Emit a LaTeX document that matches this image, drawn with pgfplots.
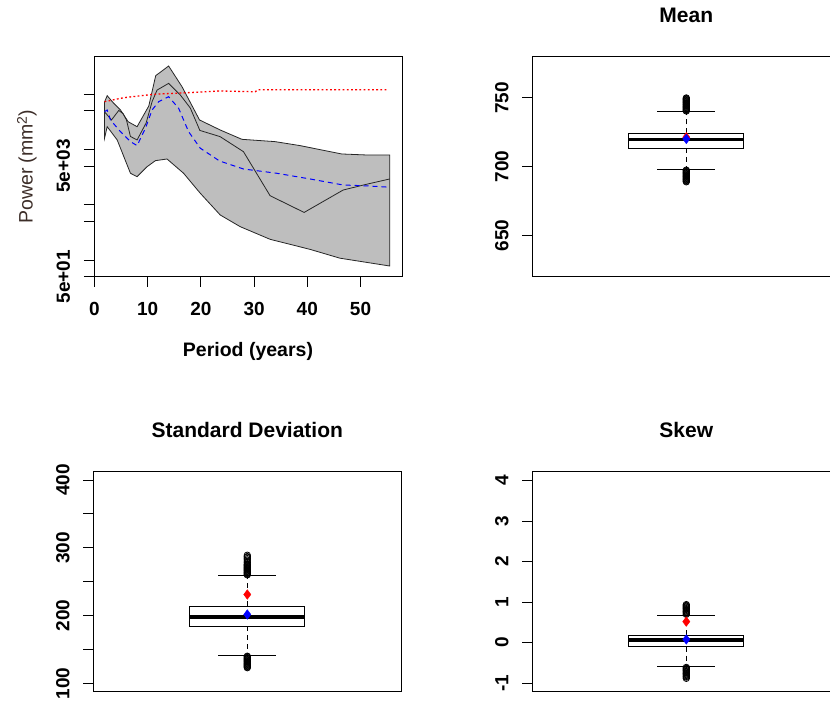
\documentclass[border=0pt]{standalone}
\usepackage{pgfplots}
\pgfplotsset{compat=1.18}
\usepackage{fontspec}
\setmainfont{Liberation Sans}
\definecolor{bandgray}{RGB}{190,190,190}
\definecolor{labcol}{RGB}{60,45,40}
\pgfplotsset{
  rbase/.style={
    scale only axis, width=308pt, height=220pt,
    axis line style={black, line width=0.9pt},
    every tick/.style={black, line width=0.9pt},
    tick align=outside, major tick length=10pt, minor tick num=0,
    ytick pos=left, xtick pos=bottom,
    /pgf/number format/assume math mode=true,
    ticklabel style={font=\fontsize{19}{21}\selectfont\bfseries, inner sep=0pt},
    yticklabel style={rotate=90, anchor=base},
    yticklabel shift=14pt,
    title style={font=\fontsize{21}{24}\selectfont\bfseries, at={(axis description cs:0.5,1)}, anchor=base, yshift=28pt},
  },
  rbox/.style={rbase, xmin=0.5, xmax=1.5, xtick=\empty},
  boxline/.style={black, line width=0.9pt},
  wh/.style={black, line width=0.9pt, dash pattern=on 5pt off 4pt},
  med/.style={black, line width=3.5pt},
  outl/.style={only marks, mark=o, mark size=3.2pt, black, mark options={line width=0.8pt}},
  rpt/.style={only marks, mark=diamond*, mark size=4.8pt, red, mark options={fill=red, draw=red}},
  bpt/.style={only marks, mark=diamond*, mark size=4.8pt, blue, mark options={fill=blue, draw=blue}},
}
\begin{document}
\begin{tikzpicture}
% ---------------- top-left: power spectrum ----------------
\begin{axis}[rbase, at={(94pt,425.3pt)}, anchor=south west,
  xmin=-0.1, xmax=57.8, ymode=log, ymin=50, ymax=473000,
  xtick={0,10,20,30,40,50},
  xticklabel style={anchor=north}, xticklabel shift=15pt,
  ytick={50,100,500,1000,5000,10000,50000,100000},
  yticklabels={5e+01,,,,5e+03,,,},
  xlabel={Period (years)},
  xlabel style={font=\fontsize{19.5}{22}\selectfont\bfseries, at={(axis description cs:0.5,-0.341)}, anchor=center},
  ylabel={Power (mm\raisebox{0.55ex}{\fontsize{14}{16}\selectfont 2})},
  ylabel style={font=\fontsize{19.5}{22}\selectfont, color=labcol, at={(axis description cs:-0.218,0.5)}, rotate=0, anchor=center},
]
\addplot[draw=black!85, line width=0.8pt, fill=bandgray] coordinates {
(1.88,71800) (2.38,93400) (3.56,68900) (4.88,51500) (6.32,31600) (8.0,25700)
(10.2,60800) (11.5,215000) (13.93,321000) (16.44,136000) (19.74,34000)
(23.63,22400) (27.7,15200) (33.94,13800) (38.63,11700) (46.45,8260)
(51.13,7920) (55.5,7920)
(55.5,78) (46.13,108) (40.5,156) (33.0,237) (27.38,401) (23.63,652)
(19.88,1610) (16.74,3700) (13.63,6700) (11.44,6250) (9.88,4860) (8.0,3210)
(6.75,3700) (4.26,14800) (2.38,25700) (1.88,15900)
} -- cycle;
\addplot[black!85, line width=0.8pt] coordinates {
(1.94,47000) (3.19,34000) (4.56,50600) (5.4,44000) (6.0,34000) (6.75,17100)
(8.0,14800) (9.7,30000) (10.82,72800) (11.76,118000) (13.93,156000)
(16.13,96000) (18.0,56000) (19.8,22000) (23.6,17000) (28.0,9080)
(33.0,1455) (39.4,725) (46.75,1845) (51.13,2340) (55.5,2920)
};
\addplot[blue, line width=1pt, dash pattern=on 5pt off 4pt] coordinates {
(1.88,48000) (2.38,51500) (3.0,34000) (4.88,20900) (6.75,13800) (8.0,11700)
(9.56,24000) (10.82,51500) (12.06,72800) (13.93,89600) (15.81,55300)
(17.68,20900) (19.88,10500) (23.5,6170) (28.0,4420) (34.26,3700)
(40.5,2920) (46.75,2270) (51.13,2190) (55.5,2070)
};
\addplot[red, line width=1.3pt, dash pattern=on 1.8pt off 2.4pt] coordinates {
(1.88,72800) (5.49,85900) (11.12,99000) (17.68,106000) (23.63,113500)
(30.19,110000) (30.81,120000) (55.18,120000)
};
\end{axis}
% ---------------- top-right: Mean ----------------
\begin{axis}[rbox, at={(532.3pt,425.3pt)}, anchor=south west,
  ymin=620, ymax=780, ytick={650,700,750}, title={Mean}]
\addplot[boxline] coordinates {(0.813,713.6) (1.187,713.6) (1.187,724.3) (0.813,724.3)} -- cycle;
\addplot[wh] coordinates {(1,724.3) (1,740)};
\addplot[wh] coordinates {(1,713.6) (1,698.3)};
\addplot[boxline] coordinates {(0.906,740) (1.094,740)};
\addplot[boxline] coordinates {(0.906,698.3) (1.094,698.3)};
\addplot[med] coordinates {(0.813,719.7) (1.187,719.7)};
\addplot[outl] coordinates {
(1,740.5) (1,741) (1,741.5) (1,742) (1,742.5) (1,743) (1,743.5) (1,744) (1,744.5) (1,745)
(1,745.5) (1,746) (1,746.5) (1,747) (1,747.5) (1,748) (1,748.5) (1,749) (1,749.5) (1,750)
(1,697.5) (1,697) (1,696.5) (1,696) (1,695.5) (1,695) (1,694.5) (1,694) (1,693.5) (1,693)
(1,692.5) (1,692) (1,691.5) (1,691) (1,690.5) (1,690) (1,689.5) (1,689)
};
\addplot[rpt] coordinates {(1,721.4)};
\addplot[bpt] coordinates {(1,720.2)};
\end{axis}
% ---------------- bottom-left: Standard Deviation ----------------
\begin{axis}[rbox, at={(93.3pt,10.3pt)}, anchor=south west,
  ymin=87.6, ymax=412.2, ytick={100,150,200,250,300,350,400},
  yticklabels={100,,200,,300,,400}, title={Standard Deviation}]
\addplot[boxline] coordinates {(0.813,184.2) (1.187,184.2) (1.187,213.7) (0.813,213.7)} -- cycle;
\addplot[wh] coordinates {(1,213.7) (1,259.4)};
\addplot[wh] coordinates {(1,184.2) (1,141)};
\addplot[boxline] coordinates {(0.906,259.4) (1.094,259.4)};
\addplot[boxline] coordinates {(0.906,141) (1.094,141)};
\addplot[med] coordinates {(0.813,198) (1.187,198)};
\addplot[outl] coordinates {
(1,260) (1,261) (1,262) (1,263) (1,264) (1,265) (1,266) (1,267) (1,268) (1,269) (1,270)
(1,271) (1,272) (1,273) (1,274) (1,275) (1,276) (1,278) (1,280) (1,282) (1,284) (1,286)
(1,287) (1,289)
(1,140) (1,139) (1,138) (1,137) (1,136) (1,135) (1,134) (1,133) (1,132) (1,131) (1,130)
(1,129) (1,128) (1,127) (1,126) (1,125) (1,124) (1,123)
};
\addplot[rpt] coordinates {(1,231)};
\addplot[bpt] coordinates {(1,201.5)};
\end{axis}
% ---------------- bottom-right: Skew ----------------
\begin{axis}[rbox, at={(532.3pt,10.3pt)}, anchor=south west,
  ymin=-1.21, ymax=4.22, ytick={-1,0,1,2,3,4}, title={Skew}]
\addplot[boxline] coordinates {(0.813,-0.10) (1.187,-0.10) (1.187,0.19) (0.813,0.19)} -- cycle;
\addplot[wh] coordinates {(1,0.19) (1,0.68)};
\addplot[wh] coordinates {(1,-0.10) (1,-0.59)};
\addplot[boxline] coordinates {(0.906,0.68) (1.094,0.68)};
\addplot[boxline] coordinates {(0.906,-0.59) (1.094,-0.59)};
\addplot[med] coordinates {(0.813,0.067) (1.187,0.067)};
\addplot[outl] coordinates {
(1,0.70) (1,0.72) (1,0.74) (1,0.76) (1,0.78) (1,0.80) (1,0.82) (1,0.84) (1,0.86) (1,0.88)
(1,0.90) (1,0.92) (1,0.94)
(1,-0.61) (1,-0.63) (1,-0.65) (1,-0.67) (1,-0.69) (1,-0.71) (1,-0.73) (1,-0.75) (1,-0.77)
(1,-0.79) (1,-0.81) (1,-0.83) (1,-0.85) (1,-0.88)
};
\addplot[rpt] coordinates {(1,0.52)};
\addplot[bpt] coordinates {(1,0.08)};
\end{axis}
\pgfresetboundingbox
\useasboundingbox (0pt,0pt) rectangle (830pt,702pt);
\end{tikzpicture}
\end{document}
